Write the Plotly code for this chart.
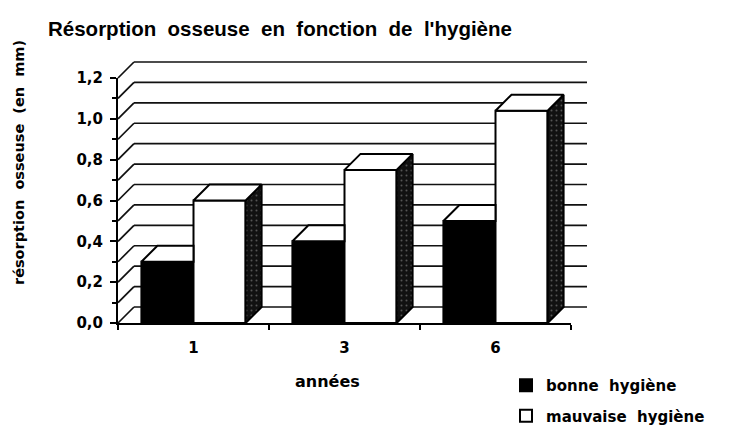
import plotly.graph_objects as go

# ---------------- data ----------------
categories = ["1", "3", "6"]
bonne_hygiene = [0.30, 0.40, 0.50]
mauvaise_hygiene = [0.60, 0.75, 1.04]
y_tick_values = [0.0, 0.2, 0.4, 0.6, 0.8, 1.0, 1.2]
y_tick_labels = ["0,0", "0,2", "0,4", "0,6", "0,8", "1,0", "1,2"]
wall_levels = [0.0, 0.1, 0.2, 0.3, 0.4, 0.5, 0.6, 0.7, 0.8, 0.9, 1.0, 1.1, 1.2]
series_names = ["bonne\u00a0 hygiène", "mauvaise\u00a0 hygiène"]
title_text = "Résorption\u00a0 osseuse\u00a0 en\u00a0 fonction\u00a0 de\u00a0 l'hygiène"
y_title = "résorption\u00a0 osseuse\u00a0 (en\u00a0 mm)"
x_title = "années"

# ---------------- geometry (page pixels) ----------------
PAGE_W, PAGE_H = 741, 427
off = 8                    # default body margin of the html page
W, H = PAGE_W - off, PAGE_H - off

ox, oy = 118 - off, 323 - off   # front origin of the chart (figure px)
sx = 151                   # px per category
y_max = 1.2
front_h = 245              # px from 0 to 1.2
sy = front_h / y_max
depth = 16                 # 3D depth offset, px
pad = 4
ddx = depth / sx
ddy = depth / sy
bar_w = 0.345

n = len(categories)
xs = list(range(n))
x0, x1 = -0.5, n - 0.5

left = ox - pad
right = ox + n * sx + depth + pad
top = oy - front_h - depth - pad
bottom = oy + pad
pw = right - left
ph = bottom - top


def px_x(page_x):
    return (page_x - off - left) / pw


def px_y(page_y):
    return (bottom - (page_y - off)) / ph


black = "#000000"
small_font = dict(family="DejaVu Sans", size=15, color=black, weight="bold")

fig = go.Figure()

fig.add_trace(go.Bar(
    x=xs, y=bonne_hygiene, width=bar_w, offset=-bar_w, name=series_names[0],
    marker=dict(color=black, line=dict(color=black, width=2)),
    legendgroup="a", hoverinfo="skip"))
fig.add_trace(go.Bar(
    x=xs, y=mauvaise_hygiene, width=bar_w, offset=0, name=series_names[1],
    marker=dict(color="white", line=dict(color=black, width=2)),
    legendgroup="b", hoverinfo="skip"))

# 3D faces derived from values
side_x, side_y, top_x, top_y = [], [], [], []
for i, (b, m) in enumerate(zip(bonne_hygiene, mauvaise_hygiene)):
    xl, xm, xr = i - bar_w, i, i + bar_w
    top_x += [xl, xm, xm, xl + ddx, xl, None]
    top_y += [b, b, b + ddy, b + ddy, b, None]
    top_x += [xm, xr, xr + ddx, xm + ddx, xm, None]
    top_y += [m, m, m + ddy, m + ddy, m, None]
    side_x += [xr, xr + ddx, xr + ddx, xr, xr, None]
    side_y += [0, ddy, m + ddy, m, 0, None]

fig.add_trace(go.Scatter(
    x=side_x, y=side_y, mode="lines", fill="toself",
    fillpattern=dict(shape=".", bgcolor="#111111", fgcolor="#9a9a9a", size=5, solidity=0.12),
    line=dict(color=black, width=2), showlegend=False, hoverinfo="skip"))
fig.add_trace(go.Scatter(
    x=top_x, y=top_y, mode="lines", fill="toself", fillcolor="white",
    line=dict(color=black, width=2), showlegend=False, hoverinfo="skip"))

# front-axes subplot holder
fig.add_trace(go.Scatter(x=[None], y=[None], xaxis="x2", yaxis="y2",
                         showlegend=False, hoverinfo="skip"))

# back wall + left wall grid
shapes = []
for v in wall_levels:
    shapes.append(dict(type="line", xref="x", yref="y", layer="below",
                       x0=x0, y0=v, x1=x0 + ddx, y1=v + ddy,
                       line=dict(color="#111111", width=1.7)))
    shapes.append(dict(type="line", xref="x", yref="y", layer="below",
                       x0=x0 + ddx, y0=v + ddy, x1=x1 + ddx, y1=v + ddy,
                       line=dict(color="#111111", width=1.7)))

fig.update_layout(
    width=W, height=H, autosize=False,
    margin=dict(l=left, r=W - right, t=top, b=H - bottom, pad=0, autoexpand=False),
    paper_bgcolor="white", plot_bgcolor="rgba(0,0,0,0)",
    barmode="overlay", hovermode=False,
    separators=", ",
    shapes=shapes,
    xaxis=dict(domain=[0, 1], range=[x0 - pad / sx, x1 + (depth + pad) / sx],
               visible=False, fixedrange=True),
    yaxis=dict(domain=[0, 1], range=[-pad / sy, y_max + (depth + pad) / sy],
               visible=False, fixedrange=True),
    xaxis2=dict(domain=[pad / pw, (pad + n * sx) / pw], anchor="y2", range=[x0, x1],
                showline=True, linecolor=black, linewidth=2, showgrid=False, zeroline=False,
                tickmode="array", tickvals=xs, ticktext=categories, ticks="",
                ticklabelstandoff=10, tickfont=small_font, automargin=False,
                minor=dict(tickmode="array", tickvals=[x0 + k for k in range(n + 1)],
                           ticks="outside", ticklen=5, tickwidth=1.5, tickcolor=black)),
    yaxis2=dict(domain=[pad / ph, (pad + front_h) / ph], anchor="x2", range=[0, y_max],
                showline=True, linecolor=black, linewidth=2, showgrid=False, zeroline=False,
                tickmode="array", tickvals=y_tick_values, ticktext=y_tick_labels,
                ticks="outside", ticklen=6, tickwidth=1.5, tickcolor=black,
                ticklabelstandoff=4, tickfont=small_font, automargin=False,
                minor=dict(tickmode="linear", tick0=0, dtick=0.1,
                           ticks="outside", ticklen=4, tickwidth=1.5, tickcolor=black)),
    legend=dict(x=(506 - off) / W, y=1 - (369 - off) / H, xanchor="left", yanchor="top",
                xref="container", yref="container", bgcolor="rgba(0,0,0,0)",
                font=small_font, tracegroupgap=8, traceorder="grouped"),
    annotations=[
        dict(text=title_text, xref="paper", yref="paper",
             x=px_x(46), y=px_y(28), xanchor="left", yanchor="middle",
             showarrow=False,
             font=dict(family="Liberation Sans", size=20.5, color=black, weight="bold")),
        dict(text=y_title, xref="paper", yref="paper",
             x=px_x(19), y=px_y(163), xanchor="center", yanchor="middle",
             textangle=-90, showarrow=False,
             font=dict(family="DejaVu Sans", size=14.5, color=black, weight="bold")),
        dict(text=x_title, xref="paper", yref="paper",
             x=px_x(327), y=px_y(382), xanchor="center", yanchor="middle",
             showarrow=False, font=dict(family="DejaVu Sans", size=16, color=black, weight="bold")),
    ],
)

fig.write_html("out.html")
